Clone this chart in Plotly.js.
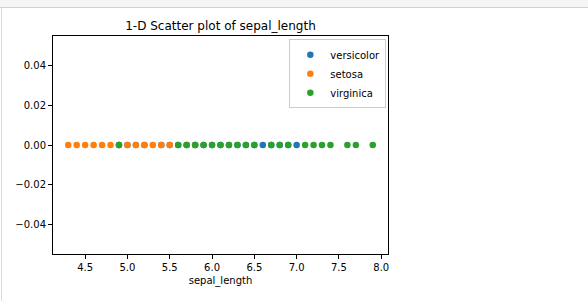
<!DOCTYPE html>
<html>
<head>
<meta charset="utf-8">
<script src="https://cdn.plot.ly/plotly-3.0.1.min.js"></script>
<style>
  html, body { margin: 0; padding: 0; background: #ffffff; }
  body { width: 588px; height: 301px; position: relative; overflow: hidden; }
  #topbar { position: absolute; left: 0; top: 0; width: 588px; height: 7px; background: #f5f5f5; border-bottom: 1px solid #d2d2d2; }
  #leftline { position: absolute; left: 1px; top: 8px; width: 1px; height: 293px; background: #dcdcdc; }
  #chart { position: absolute; left: 0; top: 0; width: 588px; height: 301px; }
</style>
</head>
<body>
<div id="topbar"></div>
<div id="leftline"></div>
<div id="chart"></div>
<script>
// Iris sepal_length values (distinct values present per species)
var versicolor = [4.9, 5.0, 5.1, 5.2, 5.4, 5.5, 5.6, 5.7, 5.8, 5.9, 6.0, 6.1, 6.2, 6.3, 6.4, 6.5, 6.6, 6.7, 6.8, 6.9, 7.0];
var setosa = [4.3, 4.4, 4.5, 4.6, 4.7, 4.8, 4.9, 5.0, 5.1, 5.2, 5.3, 5.4, 5.5, 5.7, 5.8];
var virginica = [4.9, 5.6, 5.7, 5.8, 5.9, 6.0, 6.1, 6.2, 6.3, 6.4, 6.5, 6.7, 6.8, 6.9, 7.1, 7.2, 7.3, 7.4, 7.6, 7.7, 7.9];
var seriesNames = ["versicolor", "setosa", "virginica"];
var seriesColors = ["#1f77b4", "#ff7f0e", "#2ca02c"];
var xTickVals = [4.5, 5.0, 5.5, 6.0, 6.5, 7.0, 7.5, 8.0];
var yTickVals = [-0.04, -0.02, 0.0, 0.02, 0.04];

var seriesData = [versicolor, setosa, virginica];
var traces = seriesData.map(function (vals, i) {
  return {
    type: "scatter",
    mode: "markers",
    name: seriesNames[i],
    x: vals,
    y: vals.map(function () { return 0; }),
    marker: { color: seriesColors[i], size: 6.5, line: { width: 0 } },
    cliponaxis: false
  };
});

var font = "DejaVu Sans, sans-serif";
var layout = {
  width: 588,
  height: 301,
  paper_bgcolor: "rgba(0,0,0,0)",
  plot_bgcolor: "#ffffff",
  margin: { l: 53, r: 200, t: 36, b: 47, pad: 0 },
  font: { family: font, size: 10, color: "#000000" },
  title: {
    text: "1-D Scatter plot of sepal_length",
    font: { family: font, size: 12, color: "#000000" },
    x: 0.375, xanchor: "center", xref: "container",
    y: 0.915, yanchor: "middle", yref: "container"
  },
  xaxis: {
    range: [4.12, 8.08],
    tickvals: xTickVals,
    tickformat: ".1f",
    ticks: "outside", ticklen: 4, tickwidth: 1, tickcolor: "#000000",
    showline: true, linecolor: "#000000", linewidth: 1, mirror: true,
    showgrid: false, zeroline: false,
    tickfont: { family: font, size: 10, color: "#000000" },
    title: { text: "sepal_length", font: { family: font, size: 10, color: "#000000" }, standoff: 4 }
  },
  yaxis: {
    range: [-0.055, 0.055],
    tickvals: yTickVals,
    tickformat: ".2f",
    ticks: "outside", ticklen: 4, tickwidth: 1, tickcolor: "#000000",
    showline: true, linecolor: "#000000", linewidth: 1, mirror: true,
    showgrid: false, zeroline: false,
    tickfont: { family: font, size: 10, color: "#000000" }
  },
  showlegend: true,
  legend: {
    x: 0.995, xanchor: "right", y: 0.985, yanchor: "top",
    bgcolor: "#ffffff", bordercolor: "#cccccc", borderwidth: 1,
    font: { family: font, size: 10, color: "#000000" },
    itemwidth: 30,
    tracegroupgap: 0
  }
};

Plotly.newPlot("chart", traces, layout, { displayModeBar: false, staticPlot: true });
</script>
</body>
</html>
